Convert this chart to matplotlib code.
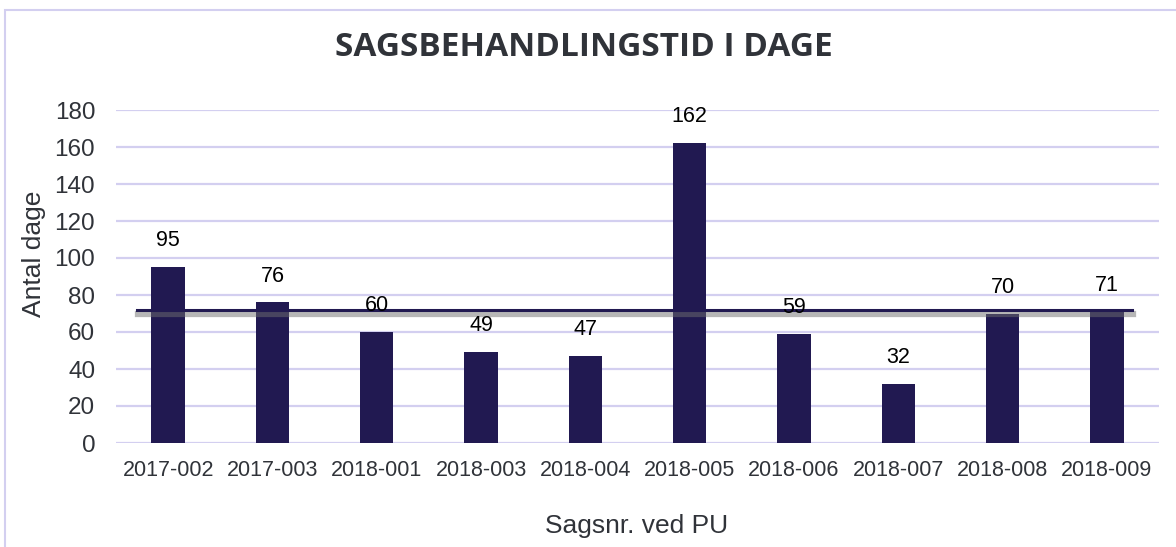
import numpy as np
import matplotlib
matplotlib.use('agg')
import matplotlib.pyplot as plt
import matplotlib.patheffects as pe
from matplotlib.patches import Rectangle

cases = ['2017-002', '2017-003', '2018-001', '2018-003', '2018-004',
         '2018-005', '2018-006', '2018-007', '2018-008', '2018-009']
days = [95, 76, 60, 49, 47, 162, 59, 32, 70, 71]
yticks = [0, 20, 40, 60, 80, 100, 120, 140, 160, 180]

title = 'SAGSBEHANDLINGSTID I DAGE'
xlabel = 'Sagsnr. ved PU'
ylabel = 'Antal dage'

navy = '#211951'
grid = '#d3cff0'
text_col = '#303339'

plt.rcParams['font.family'] = ['Liberation Sans', 'DejaVu Sans']

fig = plt.figure(figsize=(11.76, 5.47), dpi=100)
fig.patches.append(Rectangle((5 / 1176, -0.1), 1.2, 1 - 10 / 547 + 0.1,
                             transform=fig.transFigure, fill=False,
                             edgecolor=grid, linewidth=1.5))

ax = fig.add_axes([116 / 1176, 104 / 547, 1043 / 1176, 333 / 547])
x = np.arange(len(cases))
ax.bar(x, days, width=0.32, color=navy, zorder=2)

for xi, v in zip(x, days):
    ax.annotate(str(v), (xi, v), xytext=(0, 19), textcoords='offset points',
                ha='center', va='center', fontsize=15.5, color='black', zorder=4)

# average line with a gray shadow
avg = np.mean(days)
ax.axhline(avg, xmin=0.02, xmax=0.974, color=navy, linewidth=2.2, zorder=3,
           path_effects=[pe.SimpleLineShadow(offset=(0.5, -3.0), shadow_color='#6f6f6f',
                                             alpha=0.5, linewidth=4.5),
                         pe.Normal()])

ax.set_xlim(-0.5, len(cases) - 0.5)
ax.set_ylim(0, 180)
ax.set_yticks(yticks)
ax.set_xticks(x)
ax.set_xticklabels(cases)
ax.tick_params(axis='both', length=0, colors=text_col)
ax.tick_params(axis='y', labelsize=17.5, pad=15)
ax.tick_params(axis='x', labelsize=15.5, pad=12)
ax.yaxis.grid(True, color=grid, linewidth=1.6, zorder=0)
ax.set_axisbelow(True)
for s in ax.spines.values():
    s.set_visible(False)

fig.text(584 / 1176, 1 - 47 / 547, title, ha='center', va='center',
         fontsize=24, fontweight='bold', color=text_col, family=['Open Sans', 'DejaVu Sans'])
fig.text(637 / 1176, 1 - 526 / 547, xlabel, ha='center', va='center',
         fontsize=19, color=text_col)
fig.text(34 / 1176, 1 - 254 / 547, ylabel, ha='center', va='center',
         fontsize=19, color=text_col, rotation=90)

fig.savefig('out.png', dpi=100)
